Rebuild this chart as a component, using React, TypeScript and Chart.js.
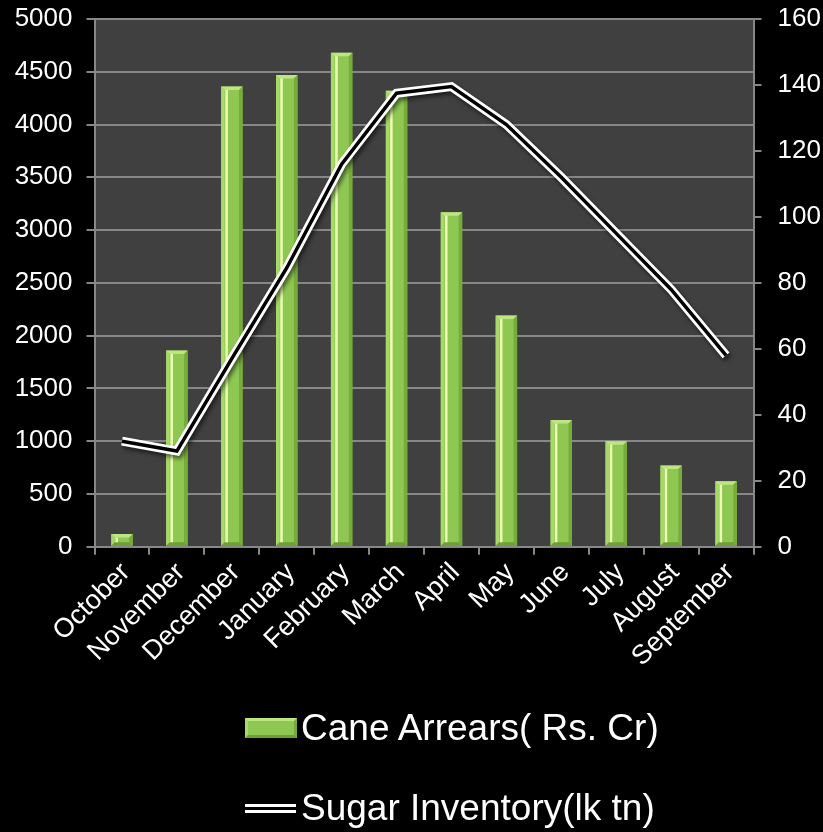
import { useEffect, useRef } from "react";
import { Chart, registerables } from "chart.js";

Chart.register(...registerables);

const months = [
  "October", "November", "December", "January", "February", "March",
  "April", "May", "June", "July", "August", "September",
];
const caneArrears = [120, 1860, 4360, 4470, 4680, 4320, 3170, 2190, 1200, 1000, 770, 620];
const sugarInventory = [32, 29, 57, 84.5, 116, 137.5, 139.5, 128, 112, 95, 78, 58];
const leftAxis = { min: 0, max: 5000, step: 500 };
const rightAxis = { min: 0, max: 160, step: 20 };

const FONT = "'Liberation Sans', Arial, sans-serif";
const GRID = "#878787";

// grey plot background
const plotBg = {
  id: "plotBg",
  beforeDraw(chart: Chart) {
    const { ctx, chartArea: a } = chart;
    ctx.save();
    ctx.fillStyle = "#404040";
    ctx.fillRect(a.left, a.top, a.right - a.left, a.bottom - a.top);
    ctx.restore();
  },
};

// bevel + highlight on the bars, shadow under the white line
const barBevel = {
  id: "barBevel",
  beforeDatasetDraw(chart: Chart, args: any) {
    if (args.index === 1) {
      const ctx = chart.ctx;
      ctx.save();
      ctx.shadowColor = "rgba(0,0,0,0.55)";
      ctx.shadowBlur = 4;
      ctx.shadowOffsetX = 2;
      ctx.shadowOffsetY = 3;
    }
  },
  afterDatasetDraw(chart: Chart, args: any) {
    const ctx = chart.ctx;
    if (args.index === 1) {
      ctx.restore();
      return;
    }
    if (args.index !== 0) return;
    ctx.save();
    args.meta.data.forEach((el: any) => {
      const { x, y, base, width } = el.getProps(["x", "y", "base", "width"], true);
      const l = x - width / 2;
      const r = x + width / 2;
      const t = Math.min(y, base);
      const b = Math.max(y, base);
      const bv = Math.min(3.5, (b - t) / 2);
      const poly = (pts: number[][], color: string) => {
        ctx.beginPath();
        ctx.moveTo(pts[0][0], pts[0][1]);
        pts.slice(1).forEach((p) => ctx.lineTo(p[0], p[1]));
        ctx.closePath();
        ctx.fillStyle = color;
        ctx.fill();
      };
      poly([[l, t], [r, t], [r - bv, t + bv], [l + bv, t + bv]], "#bde582");
      poly([[l, t], [l + bv, t + bv], [l + bv, b - bv], [l, b]], "#a6d968");
      poly([[r, t], [r, b], [r - bv, b - bv], [r - bv, t + bv]], "#77ac3b");
      poly([[l, b], [l + bv, b - bv], [r - bv, b - bv], [r, b]], "#6e9f36");
      ctx.fillStyle = "#efffb4";
      ctx.fillRect(l + width * 0.2, t + bv, 2.5, Math.max(0, b - t - 2 * bv));
    });
    ctx.restore();
  },
};

const plain = (v: string | number) => String(v);

// fixed axis width, no extra label overflow padding at top/bottom
const fixAxis = (width: number) => (scale: any) => {
  scale.width = width;
  scale.paddingTop = 0;
  scale.paddingBottom = 0;
};

export default function App() {
  const canvasRef = useRef<HTMLCanvasElement | null>(null);

  useEffect(() => {
    document.body.style.margin = "0";
    document.body.style.background = "#000";
    const canvas = canvasRef.current;
    if (!canvas) return;

    const chart = new Chart(canvas, {
      type: "bar",
      data: {
        labels: months,
        datasets: [
          {
            type: "bar",
            label: "Cane Arrears( Rs. Cr)",
            data: caneArrears,
            backgroundColor: "#8ec853",
            borderWidth: 0,
            yAxisID: "y",
            order: 3,
            categoryPercentage: 1,
            barPercentage: 0.39,
          },
          {
            type: "line",
            label: "Sugar Inventory(lk tn)",
            data: sugarInventory,
            borderColor: "#ffffff",
            borderWidth: 9,
            pointRadius: 0,
            tension: 0,
            yAxisID: "y1",
            order: 2,
          },
          {
            type: "line",
            label: "inner",
            data: sugarInventory,
            borderColor: "#000000",
            borderWidth: 3.5,
            pointRadius: 0,
            tension: 0,
            yAxisID: "y1",
            order: 1,
          },
        ],
      },
      options: {
        animation: false,
        responsive: true,
        maintainAspectRatio: false,
        layout: { padding: { left: 14, right: 3, top: 19, bottom: 157 } },
        plugins: {
          legend: { display: false },
          tooltip: { enabled: false },
        },
        scales: {
          x: {
            grid: { drawOnChartArea: false, color: GRID, tickLength: 8, lineWidth: 2 },
            border: { color: GRID, width: 2 },
            ticks: {
              color: "#ffffff",
              font: { family: FONT, size: 27 },
              maxRotation: 45,
              minRotation: 45,
              padding: 2,
              labelOffset: 4,
            },
          },
          y: {
            position: "left",
            min: leftAxis.min,
            max: leftAxis.max,
            afterFit: fixAxis(80.5),
            ticks: {
              stepSize: leftAxis.step,
              color: "#ffffff",
              font: { family: FONT, size: 26 },
              padding: 14,
              callback: plain,
            },
            grid: { color: GRID, lineWidth: 2, tickLength: 8 },
            border: { color: GRID, width: 2 },
          },
          y1: {
            position: "right",
            min: rightAxis.min,
            max: rightAxis.max,
            afterFit: fixAxis(66.5),
            ticks: {
              stepSize: rightAxis.step,
              color: "#ffffff",
              font: { family: FONT, size: 26 },
              padding: 16,
              callback: plain,
            },
            grid: { drawOnChartArea: false, color: GRID, lineWidth: 2, tickLength: 8 },
            border: { color: GRID, width: 2 },
          },
        },
      },
      plugins: [plotBg, barBevel],
    });

    return () => chart.destroy();
  }, []);

  const legendText: React.CSSProperties = {
    position: "absolute",
    left: 301,
    color: "#ffffff",
    fontFamily: FONT,
    fontSize: 37,
    lineHeight: "40px",
    whiteSpace: "nowrap",
  };

  return (
    <div style={{ position: "relative", width: 823, height: 832, background: "#000", overflow: "hidden" }}>
      <canvas ref={canvasRef}></canvas>
      <div
        style={{
          position: "absolute", left: 245, top: 718, width: 52, height: 20, boxSizing: "border-box",
          background: "#8ec853", borderStyle: "solid", borderWidth: 3,
          borderColor: "#bde582 #77ac3b #6e9f36 #a6d968",
        }}
      />
      <div style={{ ...legendText, top: 708 }}>Cane Arrears( Rs. Cr)</div>
      <div
        style={{
          position: "absolute", left: 245, top: 804, width: 51, height: 3.4, background: "#000",
          borderTop: "3.7px solid #fff", borderBottom: "3.7px solid #fff",
        }}
      />
      <div style={{ ...legendText, top: 788 }}>Sugar Inventory(lk tn)</div>
    </div>
  );
}
